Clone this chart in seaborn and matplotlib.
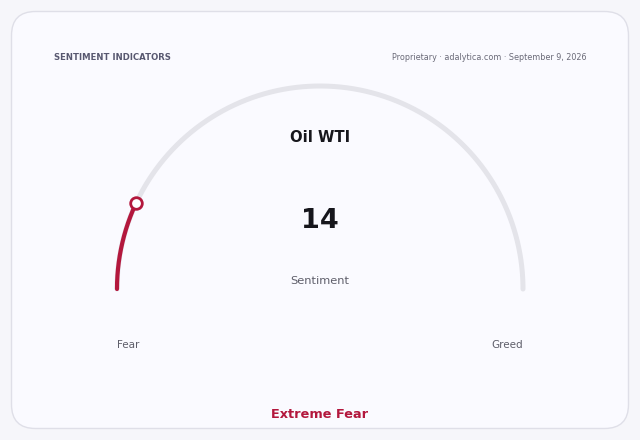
import numpy as np
import pandas as pd
import matplotlib
matplotlib.use("Agg")
import matplotlib.pyplot as plt
from matplotlib.patches import FancyBboxPatch
import seaborn as sns

# ---- data ----
title = "Oil WTI"
value = 14
value_min = 0
value_max = 100
label_center = "Sentiment"
label_left = "Fear"
label_right = "Greed"
category = "Extreme Fear"
header_left = "SENTIMENT INDICATORS"
header_right = "Proprietary · adalytica.com · September 9, 2026"

sns.set_theme(style="white")
plt.rcParams['font.family'] = ['DejaVu Sans']

BG = "#f6f6fa"
CARD = "#fafaff"
RED = "#b3173d"
GRAY_ARC = "#e4e4ea"

fig = plt.figure(figsize=(6.4, 4.4), dpi=100, facecolor=BG)
ax = fig.add_axes([0, 0, 1, 1])

card = FancyBboxPatch((11.5, 11.5), 617, 417, boxstyle="round,pad=0,rounding_size=24",
                      facecolor=CARD, edgecolor="#dfdfe8", linewidth=1.0, zorder=0)
ax.add_patch(card)

cx, cy, r = 320, 289, 203

def arc_frame(v0, v1, n=200):
    f = (np.linspace(v0, v1, n) - value_min) / (value_max - value_min)
    th = np.pi * (1 - f)
    return pd.DataFrame({"x": cx + r * np.cos(th), "y": cy - r * np.sin(th), "o": np.arange(n)})

bg_arc = arc_frame(value_min, value_max)
val_arc = arc_frame(value_min, value)

sns.lineplot(data=bg_arc, x="x", y="y", sort=False, ax=ax, color=GRAY_ARC,
             linewidth=3.6, solid_capstyle="round", zorder=1)
sns.lineplot(data=val_arc, x="x", y="y", sort=False, ax=ax, color=RED,
             linewidth=3.0, solid_capstyle="round", zorder=2)
end = val_arc.iloc[[-1]]
sns.scatterplot(data=end, x="x", y="y", ax=ax, s=70, color="white",
                edgecolor=RED, linewidth=2.0, zorder=3)
ax.set_xlim(0, 640)
ax.set_ylim(440, 0)
ax.axis("off")

ax.text(54, 57, header_left, fontsize=6.1, fontweight="bold", color="#585870",
        ha="left", va="center")
ax.text(587, 57, header_right, fontsize=5.8, color="#6a6a78", ha="right", va="center")
ax.text(320, 137, title, fontsize=10.7, fontweight="bold", color="#16161c",
        ha="center", va="center")
ax.text(320, 221, str(value), fontsize=19.5, fontweight="bold", color="#16161c",
        ha="center", va="center")
ax.text(320, 281, label_center, fontsize=8.2, color="#5e5e6a", ha="center", va="center")
ax.text(128, 345, label_left, fontsize=7.5, color="#5e5e6a", ha="center", va="center")
ax.text(507, 345, label_right, fontsize=7.5, color="#5e5e6a", ha="center", va="center")
ax.text(320, 414, category, fontsize=9.3, fontweight="bold", color=RED,
        ha="center", va="center")

fig.savefig("out.png", dpi=100, facecolor=BG)
